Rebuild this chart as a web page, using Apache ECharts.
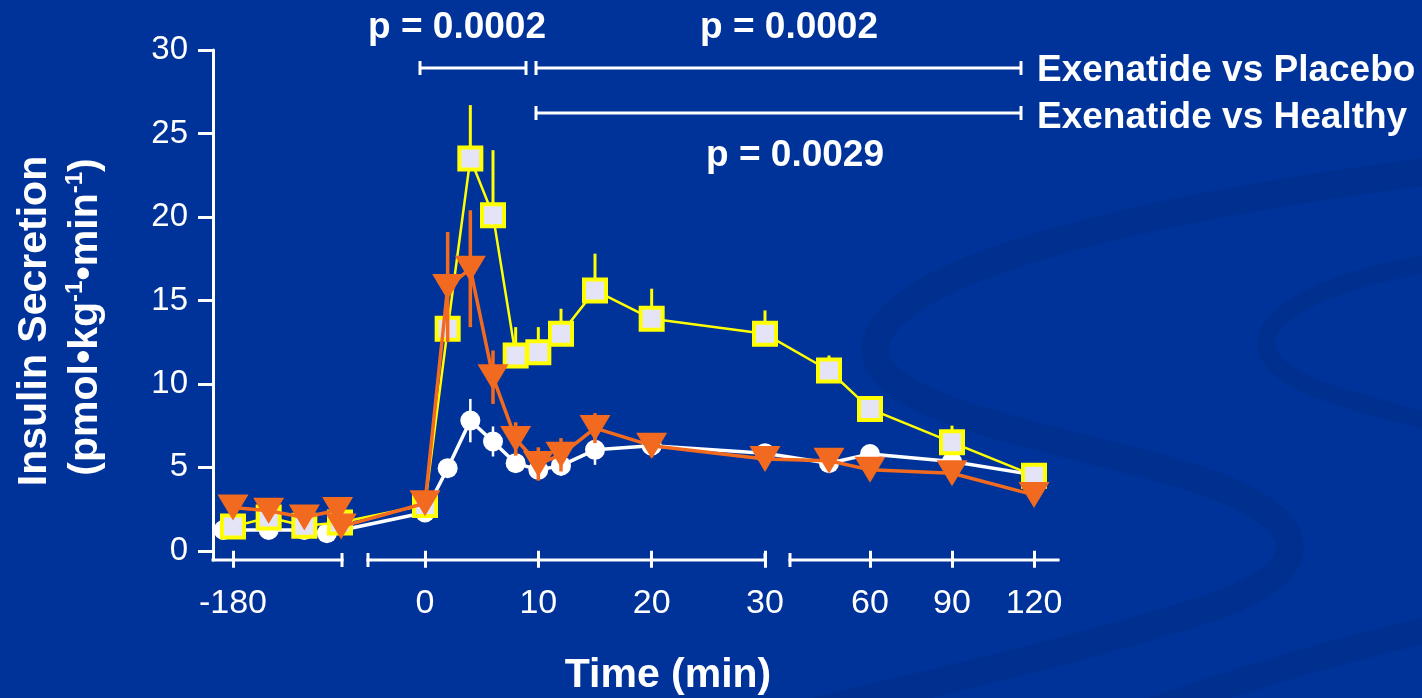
<!DOCTYPE html>
<html>
<head>
<meta charset="utf-8">
<script src="https://cdn.jsdelivr.net/npm/echarts@6/dist/echarts.min.js"></script>
<style>
  html, body { margin: 0; padding: 0; background: #003399; }
  #chart { width: 1422px; height: 698px; }
</style>
</head>
<body>
<div id="chart"></div>
<script>
// Insulin secretion (pmol·kg-1·min-1) by sampling time (min), mean and SEM per group
const exenatideTimes  = [-180, -150, -120, -90, 0, 2, 4, 6, 8, 10, 12, 15, 20, 30, 45, 60, 90, 120];
const exenatideValues = [1.45, 2.0, 1.5, 1.7, 2.75, 13.3, 23.5, 20.1, 11.7, 11.9, 13.0, 15.6, 13.9, 13.0, 10.8, 8.5, 6.5, 4.5];
const exenatideSem    = [0.2, 0.2, 0.2, 0.2, 0.2, 1.0, 3.2, 3.9, 1.7, 1.5, 1.5, 2.2, 1.8, 1.4, 0.9, 0.3, 1.0, 0.2];

const placeboTimes  = [-180, -150, -120, -92, -89, 0, 2, 4, 6, 8, 10, 12, 15, 20, 30, 45, 60, 90, 120];
const placeboValues = [2.6, 2.4, 2.0, 2.45, 1.45, 2.85, 15.8, 16.9, 10.4, 6.7, 5.2, 5.75, 7.35, 6.3, 5.5, 5.4, 4.85, 4.65, 3.35];
const placeboSem    = [0.2, 0.2, 0.2, 0.2, 0.2, 0.3, 3.3, 3.5, 1.6, 1.0, 1.0, 1.0, 0.9, 0.7, 0.3, 0.3, 0.3, 0.3, 0.2];

const healthyTimes  = [-188, -150, -120, -101, 0, 2, 4, 6, 8, 10, 12, 15, 20, 30, 45, 60, 90, 120];
const healthyValues = [1.25, 1.25, 1.25, 1.05, 2.3, 4.95, 7.8, 6.55, 5.25, 4.85, 5.1, 6.05, 6.3, 5.85, 5.25, 5.8, 5.35, 4.55];
const healthySem    = [0.2, 0.2, 0.2, 0.2, 0.2, 0.4, 1.3, 0.9, 0.5, 0.5, 0.6, 0.9, 0.6, 0.3, 0.3, 0.3, 0.3, 0.2];

const xTickTimes = [-180, 0, 10, 20, 30, 60, 90, 120];
const yTicks = [0, 5, 10, 15, 20, 25, 30];

// Broken time axis: three linear pieces laid on one value axis (1 axis unit = 1 px)
const pieces = [
  { upTo: -40,      t0: -180, u0: 20,  k: 107 / 90 },
  { upTo: 30,       t0: 0,    u0: 212, k: 340 / 30 },
  { upTo: Infinity, t0: 30,   u0: 575, k: 82 / 30 }
];
function tx(t) {
  const p = pieces.find(q => t <= q.upTo);
  return p.u0 + (t - p.t0) * p.k;
}
const X_MAX = 845;
const Y_MIN = -0.55;

// visible pieces of the time axis: [startTime, endTime, capAtStart, capAtEnd]
const axisPieces = [
  [-196.8, -88.3, 0, 1],
  [-5.03, 30, 1, 2],
  [30.73, 128.8, 1, 0]
];

const FONT = '"Liberation Sans", Arial, Helvetica, sans-serif';
const WHITE = '#ffffff';
const YELLOW = '#ffff00';
const ORANGE = '#f26a1f';

function pointsOf(times, values) {
  return times.map((t, i) => [tx(t), values[i]]);
}

function errorBars(times, values, sem, color, width, both, z) {
  return {
    type: 'custom',
    silent: true,
    z: z,
    clip: false,
    data: times.map((t, i) => [tx(t), values[i], sem[i]]),
    renderItem(params, api) {
      const x = api.value(0), y = api.value(1), e = api.value(2);
      const top = api.coord([x, y + e]);
      const bot = api.coord([x, both ? y - e : y]);
      return {
        type: 'line',
        shape: { x1: top[0], y1: top[1], x2: bot[0], y2: bot[1] },
        style: { stroke: color, lineWidth: width }
      };
    }
  };
}

const axisSegmentSeries = {
  type: 'custom',
  silent: true,
  z: 1,
  clip: false,
  data: axisPieces.map(p => [tx(p[0]), tx(p[1]), p[2], p[3]]),
  renderItem(params, api) {
    const a = api.coord([api.value(0), Y_MIN]);
    const b = api.coord([api.value(1), Y_MIN]);
    const st = { stroke: WHITE, lineWidth: 3 };
    const children = [{ type: 'line', shape: { x1: a[0] - 1.5, y1: a[1], x2: b[0] + 1.5, y2: b[1] }, style: st }];
    const cap = (px, kind) => {
      if (!kind) return;
      const up = 7, down = kind === 2 ? 0 : 7;
      children.push({ type: 'line', shape: { x1: px, y1: a[1] - up, x2: px, y2: a[1] + down }, style: st });
    };
    cap(a[0], api.value(2));
    cap(b[0], api.value(3));
    return { type: 'group', children };
  }
};

function textEl(text, x, y, size, align, extra) {
  return Object.assign({
    type: 'text', x: x, y: y, z: 10,
    style: {
      text: text, fill: WHITE,
      font: 'bold ' + size + 'px ' + FONT,
      align: align, textAlign: align,
      verticalAlign: 'middle', textVerticalAlign: 'middle'
    }
  }, extra || {});
}

function bracket(x1, x2, y) {
  const st = { stroke: WHITE, lineWidth: 3 };
  return {
    type: 'group', z: 10,
    children: [
      { type: 'line', shape: { x1: x1, y1: y, x2: x2, y2: y }, style: st },
      { type: 'line', shape: { x1: x1, y1: y - 7, x2: x1, y2: y + 7 }, style: st },
      { type: 'line', shape: { x1: x2, y1: y - 7, x2: x2, y2: y + 7 }, style: st }
    ]
  };
}

// darker background swooshes, each a chain of cubic curves [x1,y1,cp1x,cp1y,cp2x,cp2y,x2,y2]
const SWOOSH = '#00308f';
function swoosh(curves, width) {
  return {
    type: 'group', z: 0, silent: true,
    children: curves.map(c => ({
      type: 'bezierCurve',
      shape: { x1: c[0], y1: c[1], cpx1: c[2], cpy1: c[3], cpx2: c[4], cpy2: c[5], x2: c[6], y2: c[7] },
      style: { stroke: SWOOSH, lineWidth: width, fill: null, lineCap: 'round' }
    }))
  };
}

const chart = echarts.init(document.getElementById('chart'), null, { renderer: 'canvas' });
chart.setOption({
  animation: false,
  backgroundColor: '#003399',
  grid: { left: 213, right: 1422 - 213 - X_MAX, top: 50, bottom: 138 },
  xAxis: {
    type: 'value', min: 0, max: X_MAX,
    axisLine: { show: false },
    splitLine: { show: false },
    axisTick: { show: true, customValues: xTickTimes.map(tx), length: 17, lineStyle: { color: WHITE, width: 3 } },
    axisLabel: {
      customValues: xTickTimes.map(tx),
      color: WHITE, fontFamily: FONT, fontSize: 34, margin: 27,
      formatter: v => {
        const t = xTickTimes.find(tt => Math.abs(tx(tt) - v) < 0.01);
        return t === undefined ? '' : String(t);
      }
    }
  },
  yAxis: {
    type: 'value', min: Y_MIN, max: 30,
    axisLine: { show: true, lineStyle: { color: WHITE, width: 3 } },
    splitLine: { show: false },
    axisTick: { show: true, customValues: yTicks, length: 15, lineStyle: { color: WHITE, width: 3 } },
    axisLabel: { customValues: yTicks, color: WHITE, fontFamily: FONT, fontSize: 33, margin: 25 }
  },
  graphic: [
    swoosh([
      [1440, 170, 1160, 205, 895, 265, 876, 342],
      [876, 342, 862, 402, 1010, 428, 1160, 468],
      [1160, 468, 1310, 508, 1335, 565, 1210, 608],
      [1210, 608, 1080, 650, 930, 684, 820, 710]
    ], 28),
    swoosh([
      [1440, 262, 1320, 280, 1255, 318, 1268, 352],
      [1268, 352, 1282, 388, 1360, 402, 1440, 425]
    ], 18),
    swoosh([
      [1120, 722, 1230, 682, 1330, 652, 1440, 627]
    ], 26),

    textEl('p = 0.0002', 457, 28, 37, 'center'),
    textEl('p = 0.0002', 789, 28, 37, 'center'),
    textEl('p = 0.0029', 795, 156, 37, 'center'),
    textEl('Exenatide vs Placebo', 1037, 71, 37, 'left'),
    textEl('Exenatide vs Healthy', 1037, 118, 37, 'left'),
    bracket(420, 526, 68),
    bracket(536, 1021, 68),
    bracket(536, 1021, 113),
    textEl('Time (min)', 668, 676, 41, 'center'),
    textEl('Insulin Secretion', 35, 321, 41, 'center', { rotation: Math.PI / 2 }),
    {
      type: 'text', x: 86, y: 317, z: 10, rotation: Math.PI / 2,
      style: {
        text: '(pmol•kg{s|-1}•min{s|-1})',
        fill: WHITE, font: 'bold 41px ' + FONT,
        align: 'center', textAlign: 'center',
        verticalAlign: 'middle', textVerticalAlign: 'middle',
        lineHeight: 46,
        rich: { s: { fill: WHITE, fontSize: 24, fontWeight: 'bold', fontFamily: FONT, lineHeight: 26, verticalAlign: 'top' } }
      }
    }
  ],
  series: [
    axisSegmentSeries,
    errorBars(healthyTimes, healthyValues, healthySem, WHITE, 2.5, true, 2),
    {
      type: 'line', name: 'Healthy', z: 2,
      data: pointsOf(healthyTimes, healthyValues),
      symbol: 'circle', symbolSize: 20,
      lineStyle: { color: WHITE, width: 3.5 },
      itemStyle: { color: WHITE }
    },
    errorBars(exenatideTimes, exenatideValues, exenatideSem, YELLOW, 3, false, 3),
    {
      type: 'line', name: 'Exenatide', z: 3,
      data: pointsOf(exenatideTimes, exenatideValues),
      symbol: 'rect', symbolSize: 22,
      lineStyle: { color: YELLOW, width: 2.5 },
      itemStyle: { color: '#e4e4f6', borderColor: YELLOW, borderWidth: 4 }
    },
    errorBars(placeboTimes, placeboValues, placeboSem, ORANGE, 3.5, true, 4),
    {
      type: 'line', name: 'Placebo', z: 4,
      data: pointsOf(placeboTimes, placeboValues),
      symbol: 'triangle', symbolRotate: 180, symbolSize: [31, 26],
      lineStyle: { color: ORANGE, width: 3.5 },
      itemStyle: { color: ORANGE }
    }
  ]
});
</script>
</body>
</html>
